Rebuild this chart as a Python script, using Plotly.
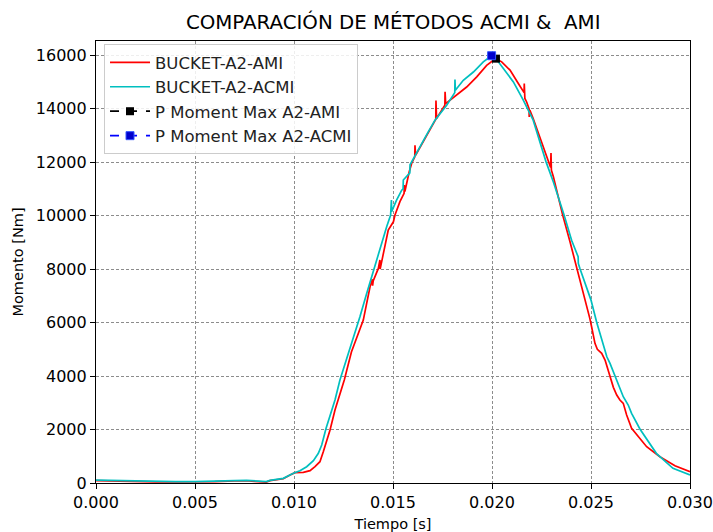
import plotly.graph_objects as go

# Bending moment time histories (time in s, moment in N·m)
t_ami = [0.0000, 0.0010, 0.0020, 0.0030, 0.0040, 0.0050, 0.0060, 0.0070, 0.0076, 0.0080,
         0.0086, 0.00879, 0.00946, 0.0098, 0.01005, 0.01047, 0.01081, 0.01106, 0.01131,
         0.01148, 0.01162, 0.01182, 0.01207, 0.01232, 0.01254, 0.0129, 0.0135, 0.01384,
         0.01396, 0.01397, 0.01400, 0.01426, 0.01434, 0.01435, 0.01451, 0.01476, 0.01502,
         0.0151, 0.01535, 0.01556, 0.01557, 0.01560, 0.01582, 0.01594, 0.01610, 0.01611,
         0.01614, 0.0167, 0.01716, 0.01717, 0.0172, 0.01762, 0.01763, 0.01766, 0.01822,
         0.01872, 0.01923, 0.01973, 0.02007, 0.0202, 0.02049, 0.02091, 0.02133, 0.02162,
         0.02163, 0.02166, 0.02175, 0.02187, 0.02188, 0.02191, 0.02208, 0.02284, 0.02296,
         0.02298, 0.02300, 0.0231, 0.02357, 0.02394, 0.0243, 0.02465, 0.02494, 0.02503,
         0.0252, 0.02532, 0.02554, 0.02571, 0.02588, 0.02604, 0.02613, 0.0263, 0.02646,
         0.02663, 0.0268, 0.02705, 0.02739, 0.02781, 0.02848, 0.02882, 0.02924, 0.0300]
m_ami = [90, 70, 55, 45, 40, 40, 55, 80, 85, 60,
         35, 90, 160, 300, 386, 400, 461, 610, 796,
         1170, 1480, 1981, 2729, 3353, 3850, 4900, 6093, 7338,
         7620, 7380, 7560, 8025, 8340, 8000, 8585, 9457, 9768,
         10020, 10520, 10830, 11140, 10900, 11640, 11950, 12200, 12630,
         12250, 13010, 13600, 14300, 13630, 14130, 14630, 14190, 14500,
         14810, 15190, 15620, 15810, 15870, 15750, 15440, 14940, 14600,
         14940, 14380, 14250, 14000, 13690, 13950, 13630, 12010, 11800,
         12340, 11700, 11450, 10020, 9020, 8020, 7000, 6156, 5843,
         5222, 4998, 4848, 4598, 4161, 3726, 3577, 3290, 3102,
         2979, 2542, 2045, 1731, 1357, 983, 822, 647, 422]

t_acmi = [0.0000, 0.0010, 0.0020, 0.0030, 0.0040, 0.0050, 0.0060, 0.0070, 0.0076, 0.0082,
          0.0086, 0.00879, 0.00946, 0.00997, 0.0103, 0.01064, 0.01098, 0.01123, 0.0114,
          0.01162, 0.01182, 0.01207, 0.01232, 0.0128, 0.01333, 0.01367, 0.01404, 0.01434,
          0.01468, 0.01488, 0.01492, 0.01493, 0.01518, 0.01544, 0.01551, 0.01552, 0.01569,
          0.01585, 0.01586, 0.01594, 0.01636, 0.01678, 0.01712, 0.01771, 0.01812, 0.01813,
          0.01815, 0.01855, 0.01906, 0.01956, 0.01998, 0.02032, 0.02057, 0.02108, 0.02158,
          0.02208, 0.02273, 0.0231, 0.02364, 0.02402, 0.02435, 0.02436, 0.02444, 0.02478,
          0.025, 0.02529, 0.02554, 0.0258, 0.02596, 0.02621, 0.02646, 0.02663, 0.02688,
          0.02705, 0.02747, 0.02789, 0.0283, 0.02914, 0.0300]
m_acmi = [110, 90, 70, 60, 55, 55, 60, 90, 100, 70,
          50, 100, 175, 362, 461, 610, 834, 1110, 1420,
          2045, 2542, 3102, 3850, 4950, 6217, 7090, 8025, 8773,
          9580, 10020, 10580, 10150, 10580, 10950, 11000, 11330, 11450,
          11600, 11900, 12010, 12570, 13130, 13570, 14130, 14600, 15090,
          14690, 15060, 15370, 15750, 15980, 15750, 15500, 15000, 14320,
          13570, 12010, 11260, 10020, 9080, 8460, 8210, 8020, 7340,
          6840, 6006, 5408, 4721, 4474, 4011, 3600, 3226, 2916,
          2605, 2019, 1544, 1110, 549, 299]

# Peak moment points of each method
peak_ami_t, peak_ami_m = [0.0202], [15870]
peak_acmi_t, peak_acmi_m = [0.01998], [15980]

FONT = "DejaVu Sans"

fig = go.Figure()
fig.add_trace(go.Scatter(x=t_ami, y=m_ami, mode="lines", name="BUCKET-A2-AMI",
                         line=dict(color="#ff0000", width=1.7)))
fig.add_trace(go.Scatter(x=t_acmi, y=m_acmi, mode="lines", name="BUCKET-A2-ACMI",
                         line=dict(color="#00bfbf", width=1.7)))
fig.add_trace(go.Scatter(x=peak_ami_t, y=peak_ami_m, mode="lines+markers",
                         name="P Moment Max A2-AMI",
                         line=dict(color="black", width=1.7, dash="dash"),
                         marker=dict(symbol="square", size=8, color="black")))
fig.add_trace(go.Scatter(x=peak_acmi_t, y=peak_acmi_m, mode="lines+markers",
                         name="P Moment Max A2-ACMI",
                         line=dict(color="blue", width=1.7, dash="dash"),
                         marker=dict(symbol="square", size=8, color="#0000cc",
                                     line=dict(color="#3355ff", width=1))))

axis_common = dict(
    showline=True, mirror=True, linecolor="black", linewidth=1.2,
    ticks="outside", ticklen=5, tickwidth=1, tickcolor="black",
    showgrid=True, gridcolor="#8c8c8c", gridwidth=1, griddash="3px,2px",
    zeroline=False, automargin=False,
    tickfont=dict(family=FONT, size=16, color="black"),
)

fig.update_xaxes(range=[0, 0.03], dtick=0.005, tickformat=".3f",
                 title=dict(text="Tiempo [s]", font=dict(family=FONT, size=14.5, color="black"),
                            standoff=8),
                 **axis_common)
fig.update_yaxes(range=[0, 16530], dtick=2000, tickformat="d",
                 title=dict(text="Momento [Nm]", font=dict(family=FONT, size=14.5, color="black"),
                            standoff=8),
                 **axis_common)

fig.update_layout(
    width=713, height=532,
    margin=dict(l=96, r=23, t=41, b=49),
    paper_bgcolor="white", plot_bgcolor="white",
    title=dict(text="COMPARACIÓN DE MÉTODOS ACMI &  AMI",
               font=dict(family=FONT, size=19.8, color="black"),
               x=0.5515, xanchor="center", y=1 - 22 / 532, yanchor="middle"),
    legend=dict(x=0.0135, y=0.993, xanchor="left", yanchor="top",
                bgcolor="rgba(255,255,255,0.85)", bordercolor="#cccccc", borderwidth=1,
                font=dict(family=FONT, size=16.5, color="#222222"),
                itemwidth=40, tracegroupgap=0),
    showlegend=True,
)

fig.write_html("out.html")
